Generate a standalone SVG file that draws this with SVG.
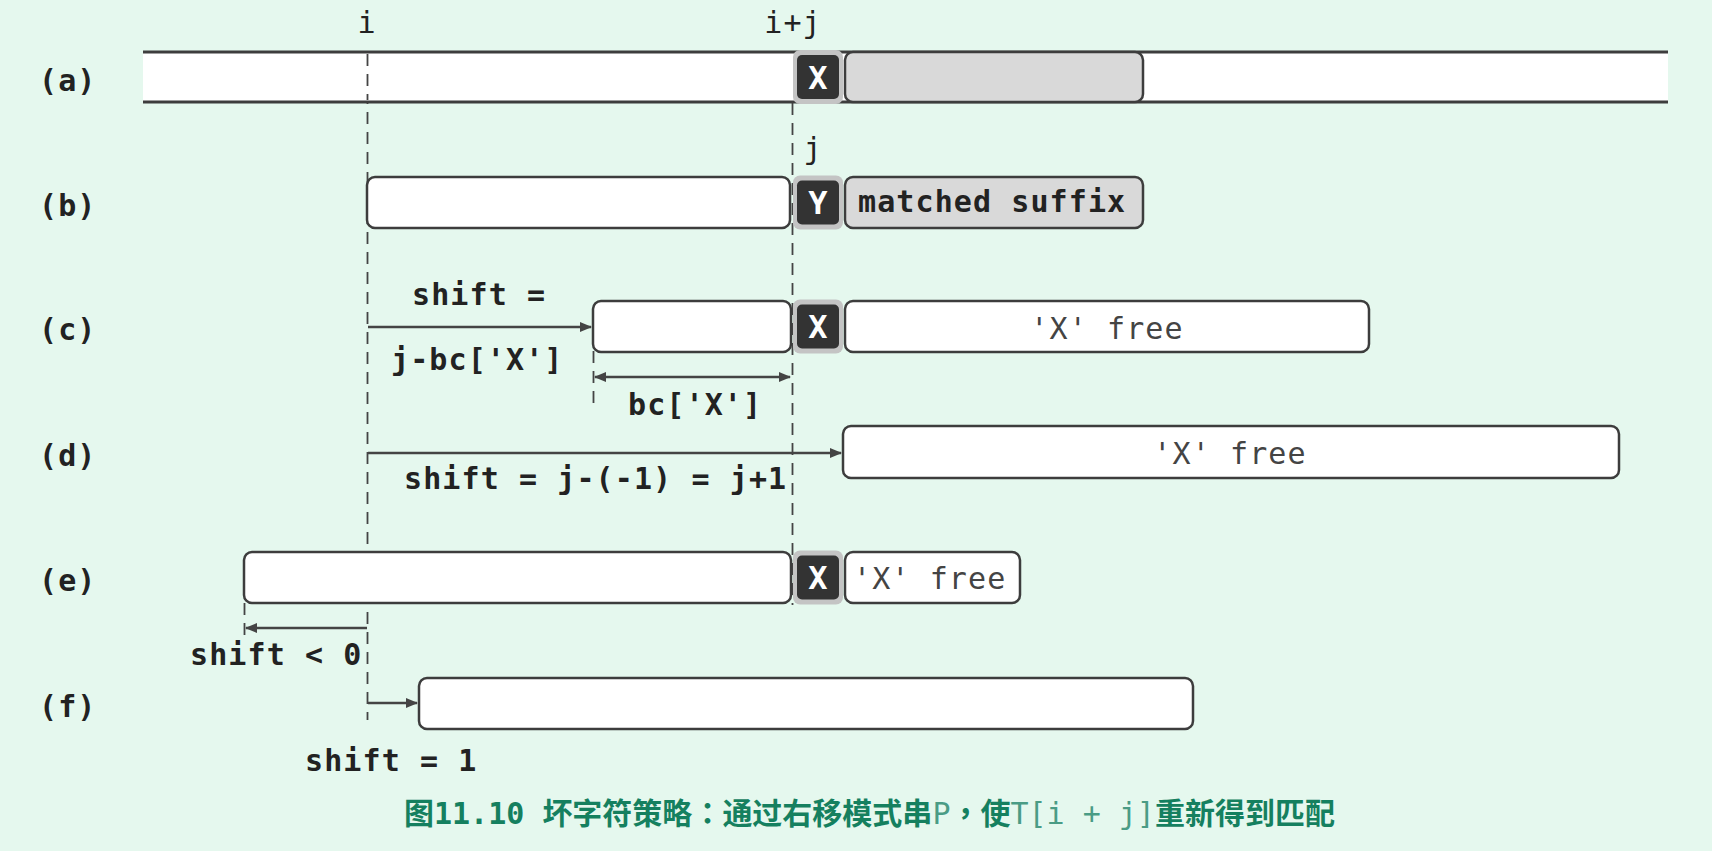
<svg xmlns="http://www.w3.org/2000/svg" width="1712" height="851" viewBox="0 0 1712 851">
<defs>
<style>
.lbl{font-family:"DejaVu Sans Mono","Liberation Mono",monospace;font-size:30px;letter-spacing:1.1px;fill:#222}
.b{font-weight:bold}
.free{fill:#444}
.box{fill:#fff;stroke:#3d3d3d;stroke-width:2.5}
.gray{fill:#d9d9d9;stroke:#3d3d3d;stroke-width:2.5}
.halo{fill:#c4c4c4}
.dark{fill:#333}
.xl{font-family:"DejaVu Sans Mono",monospace;font-weight:bold;font-size:32px;fill:#fff;text-anchor:middle}
.dash{stroke:#444;stroke-width:1.8;stroke-dasharray:12 8;fill:none}
.arr{stroke:#444;stroke-width:2.5;fill:none}
.cap{font-family:"Noto Sans CJK SC",sans-serif;font-weight:bold;font-size:30px;fill:#15805f}
.capm{font-family:"DejaVu Sans Mono",monospace}
.capl{font-family:"DejaVu Sans Mono",monospace;font-weight:normal;fill:#4a9c85}
.punct{font-family:"Noto Sans CJK TC",sans-serif}
</style>
<marker id="ah" viewBox="0 0 12 10" refX="11" refY="5" markerWidth="12" markerHeight="10" markerUnits="userSpaceOnUse" orient="auto-start-reverse">
<path d="M0,0 L12,5 L0,10 z" fill="#444"/>
</marker>
</defs>
<rect width="1712" height="851" fill="#e5f8ee"/>

<g id="connectors">
<line class="dash" x1="367.5" y1="52" x2="367.5" y2="720"/>
<line class="dash" x1="792.5" y1="103" x2="792.5" y2="605"/>
<line class="dash" x1="593.5" y1="351" x2="593.5" y2="403"/>
<line class="dash" x1="244.5" y1="603" x2="244.5" y2="640"/>
<line class="arr" x1="368" y1="327" x2="591" y2="327" marker-end="url(#ah)"/>
<line class="arr" x1="595" y1="377" x2="790" y2="377" marker-start="url(#ah)" marker-end="url(#ah)"/>
<line class="arr" x1="368" y1="453" x2="841" y2="453" marker-end="url(#ah)"/>
<line class="arr" x1="367" y1="628" x2="246" y2="628" marker-end="url(#ah)"/>
<line class="arr" x1="368" y1="703" x2="417" y2="703" marker-end="url(#ah)"/>
</g>

<g id="top-labels">
<text class="lbl" x="367" y="33" text-anchor="middle">i</text>
<text class="lbl" x="793" y="33" text-anchor="middle">i+j</text>
<text class="lbl" x="813" y="159" text-anchor="middle">j</text>
</g>

<g id="row-a">
<text class="lbl b" x="39" y="91">(a)</text>
<rect x="143" y="52" width="1525" height="50" fill="#fff"/>
<line x1="143" y1="52" x2="1668" y2="52" stroke="#3d3d3d" stroke-width="3"/>
<line x1="143" y1="102" x2="1668" y2="102" stroke="#3d3d3d" stroke-width="3"/>
<line class="dash" x1="367.5" y1="54" x2="367.5" y2="100"/>
<rect class="halo" x="793" y="50" width="50" height="54" rx="7"/>
<rect class="dark" x="797" y="55" width="42" height="44" rx="5"/>
<text class="xl" x="818" y="88.5">X</text>
<rect class="gray" x="845" y="52" width="298" height="50" rx="8"/>
</g>

<g id="row-b">
<text class="lbl b" x="39" y="216">(b)</text>
<rect class="box" x="367" y="177" width="423" height="51" rx="8"/>
<rect class="halo" x="793" y="175.5" width="50" height="54" rx="7"/>
<rect class="dark" x="797" y="180.5" width="42" height="44" rx="5"/>
<text class="xl" x="818" y="214">Y</text>
<rect class="gray" x="845" y="177" width="298" height="51" rx="8"/>
<text class="lbl b" x="858" y="212">matched suffix</text>
</g>

<g id="row-c">
<text class="lbl b" x="39" y="340">(c)</text>
<text class="lbl b" x="412" y="305">shift =</text>
<text class="lbl b" x="391" y="370">j-bc['X']</text>
<text class="lbl b" x="628" y="415">bc['X']</text>
<rect class="box" x="593" y="301" width="198" height="51" rx="8"/>
<rect class="halo" x="793" y="299.5" width="50" height="54" rx="7"/>
<rect class="dark" x="797" y="304.5" width="42" height="44" rx="5"/>
<text class="xl" x="818" y="338">X</text>
<rect class="box" x="845" y="301" width="524" height="51" rx="8"/>
<text class="lbl free" x="1107" y="339" text-anchor="middle">'X' free</text>
</g>

<g id="row-d">
<text class="lbl b" x="39" y="466">(d)</text>
<rect class="box" x="843" y="426" width="776" height="52" rx="8"/>
<text class="lbl free" x="1230" y="464" text-anchor="middle">'X' free</text>
<text class="lbl b" x="404" y="489">shift = j-(-1) = j+1</text>
</g>

<g id="row-e">
<text class="lbl b" x="39" y="591">(e)</text>
<rect class="box" x="244" y="552" width="547" height="51" rx="8"/>
<rect class="halo" x="793" y="550.5" width="50" height="54" rx="7"/>
<rect class="dark" x="797" y="555.5" width="42" height="44" rx="5"/>
<text class="xl" x="818" y="589">X</text>
<rect class="box" x="845" y="552" width="175" height="51" rx="8"/>
<text class="lbl free" x="853" y="589">'X' free</text>
<text class="lbl b" x="190" y="665">shift &lt; 0</text>
</g>

<g id="row-f">
<text class="lbl b" x="39" y="717">(f)</text>
<rect class="box" x="419" y="678" width="774" height="51" rx="8"/>
<text class="lbl b" x="305" y="771">shift = 1</text>
</g>

<g id="caption">
<text class="cap" x="404" y="824">图<tspan class="capm">11.10 </tspan>坏字符策略<tspan class="punct">：</tspan>通过右移模式串<tspan class="capl">P</tspan><tspan class="punct">，</tspan>使<tspan class="capl">T[i + j]</tspan>重新得到匹配</text>
</g>
</svg>
